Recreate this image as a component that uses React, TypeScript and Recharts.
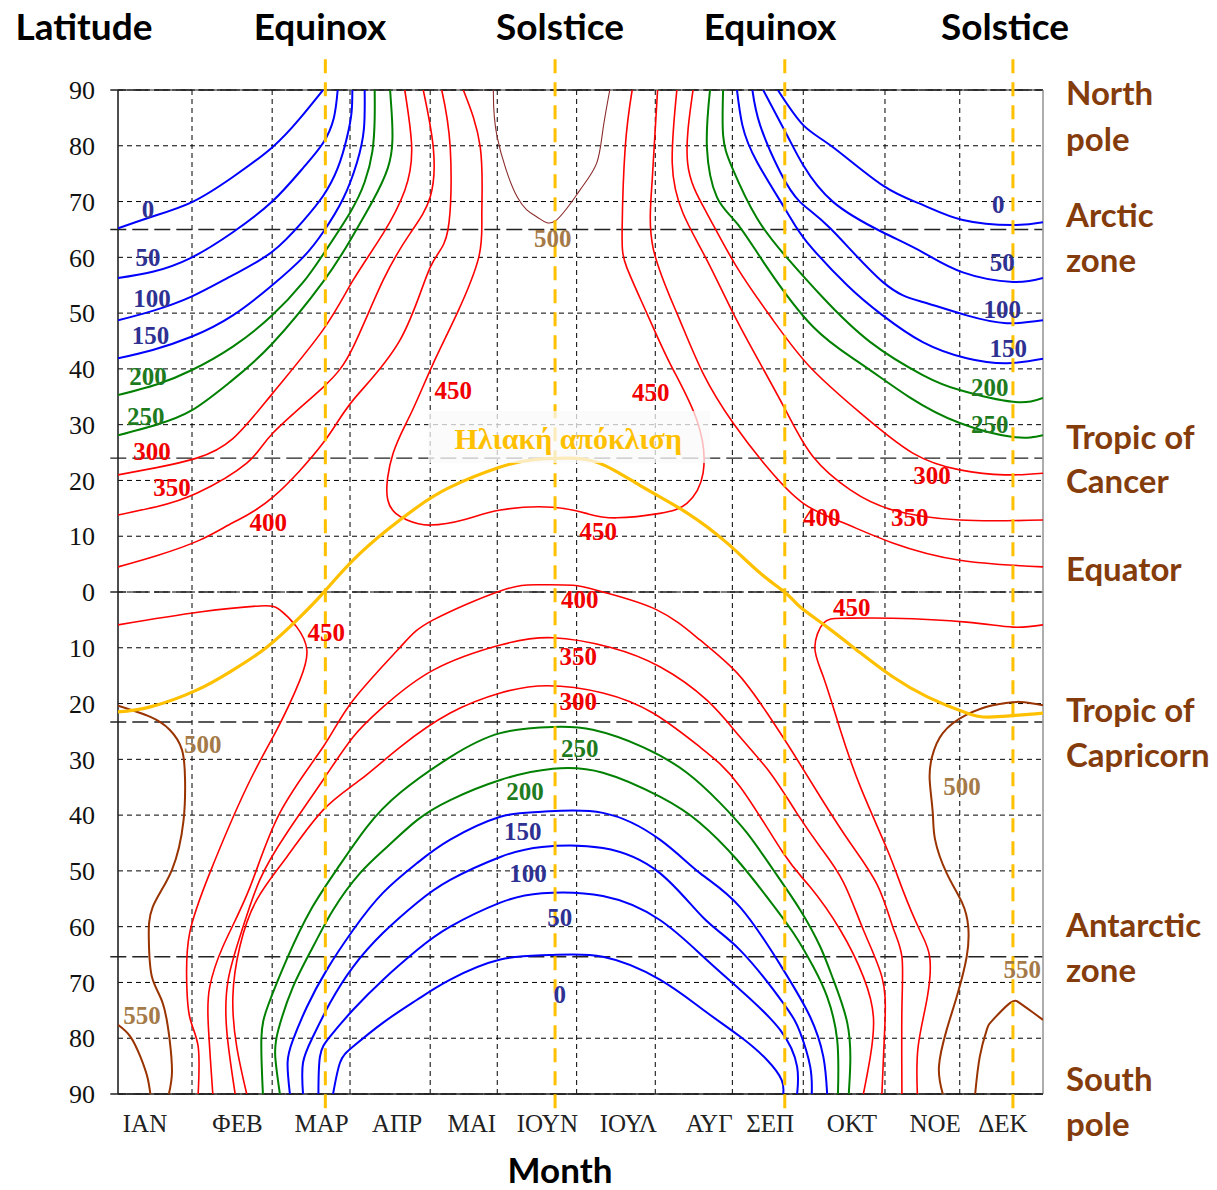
import React from 'react';
import {
  ComposedChart,
  Line,
  Scatter,
  XAxis,
  YAxis,
  CartesianGrid,
  ReferenceLine,
} from 'recharts';

type P = [number, number];

// x = month position (0 = 1 Jan, 12 = 31 Dec), y = latitude
const monthTicks = [0.35, 1.55, 2.64, 3.62, 4.59, 5.57, 6.62, 7.67, 8.46, 9.52, 10.6, 11.48];
const monthNames = ['ΙΑΝ', 'ΦΕΒ', 'ΜΑΡ', 'ΑΠΡ', 'ΜΑΙ', 'ΙΟΥΝ', 'ΙΟΥΛ', 'ΑΥΓ', 'ΣΕΠ', 'ΟΚΤ', 'ΝΟΕ', 'ΔΕΚ'];
const latTicks = [90, 80, 70, 60, 50, 40, 30, 20, 10, 0, -10, -20, -30, -40, -50, -60, -70, -80, -90];
const gridMonths = [0.96, 2.0, 3.01, 4.05, 4.92, 5.95, 6.97, 7.97, 8.89, 9.95, 10.92];
const sunMarks = [2.69, 5.67, 8.65, 11.61];
const zoneLats = [90, 65, 24, 0, -23.3, -65.4, -90];

// northern hemisphere, Jan-Apr side
const nL0: P[] = [[0, 65.2], [0.42, 67.2], [0.96, 69.9], [1.49, 74.4], [2.0, 79.7], [2.36, 84.9], [2.66, 90]];
const nL50: P[] = [[0, 56.3], [0.45, 57.4], [0.96, 60], [1.49, 64.5], [2.0, 70], [2.4, 76], [2.66, 80.5], [2.8, 85], [2.85, 90]];
const nL100: P[] = [[0, 48.7], [0.45, 50.4], [0.96, 53], [1.49, 56.8], [2.0, 61], [2.4, 66.5], [2.66, 71], [2.85, 76], [2.97, 81.5], [3.03, 86], [3.04, 90]];
const nL150: P[] = [[0, 41.9], [0.45, 43.4], [0.96, 45.8], [1.49, 49.6], [2.0, 55], [2.4, 60], [2.66, 64.5], [2.92, 70.5], [3.1, 77], [3.19, 83], [3.2, 90]];
const nL200: P[] = [[0, 35.3], [0.5, 37.2], [0.96, 39.8], [1.49, 44], [2.0, 49.6], [2.4, 55.5], [2.66, 60.5], [3.01, 68], [3.2, 73.5], [3.3, 79], [3.33, 85], [3.33, 90]];
const nL250: P[] = [[0, 28.1], [0.5, 30], [0.96, 32.6], [1.45, 37.6], [2.0, 44.5], [2.66, 55.6], [3.01, 63], [3.3, 70], [3.5, 76], [3.56, 81], [3.55, 86], [3.53, 90]];
const nL300: P[] = [[0, 21], [0.5, 22.3], [1.02, 24], [1.49, 27.5], [2.01, 35.7], [2.66, 47], [3.05, 55.9], [3.44, 64.3], [3.72, 72], [3.81, 79.7], [3.72, 90]];
const nL350: P[] = [[0, 13.8], [0.5, 15.3], [1.02, 17.7], [1.67, 23.1], [2.01, 28.5], [2.66, 36.7], [3.05, 43.9], [3.44, 55.9], [3.79, 64.3], [4.05, 70.8], [4.09, 79.7], [3.96, 90]];
const nL400: P[] = [[0, 4.5], [0.5, 6.5], [1.06, 9.3], [1.5, 12.5], [2.01, 17], [2.66, 26.7], [3.05, 34.4], [3.66, 45.2], [4.05, 58.2], [4.28, 64.9], [4.31, 79.7], [4.2, 90]];
const n450: P[] = [[4.48, 90], [4.7, 79.7], [4.72, 68], [4.68, 60], [4.4, 50], [4.09, 41], [3.8, 32], [3.57, 24.9], [3.5, 16.5], [3.75, 12.9], [4.05, 12], [4.5, 13], [4.96, 14.7], [5.64, 15.2], [6.1, 14], [6.47, 13.3], [7.03, 14.1], [7.38, 15.9], [7.59, 21.3], [7.51, 30.8], [7.16, 41], [6.86, 50], [6.6, 58.2], [6.54, 64.9], [6.58, 79.7], [6.67, 90]];
const n500: P[] = [[4.87, 90], [4.92, 81.5], [5.18, 70.8], [5.44, 67.2], [5.67, 66.5], [5.99, 72], [6.21, 76.9], [6.29, 82.8], [6.38, 90]];

// northern hemisphere, Aug-Dec side
const nR0: P[] = [[8.56, 90], [8.89, 83.7], [9.28, 79.7], [9.92, 72.9], [10.44, 69.4], [10.96, 66.7], [11.61, 65.8], [12, 66.3]];
const nR50: P[] = [[8.37, 90], [8.68, 81.9], [8.89, 76.5], [9.28, 69.9], [9.92, 64.5], [10.44, 60.9], [10.96, 57.3], [11.61, 55.6], [12, 56.3]];
const nR100: P[] = [[8.23, 90], [8.33, 83.7], [8.59, 75.3], [8.85, 69.9], [9.24, 65.2], [9.92, 55.6], [10.44, 52], [11.01, 49.6], [11.53, 48.2], [12, 48.7]];
const nR150: P[] = [[8.03, 90], [8.1, 83.7], [8.29, 77.1], [8.68, 68.1], [8.94, 62.7], [9.46, 55], [9.92, 49.6], [10.44, 44.8], [11.01, 41.9], [11.53, 41], [12, 41.8]];
const nR200: P[] = [[7.85, 90], [7.85, 81.9], [7.97, 76], [8.29, 67], [8.68, 59.9], [9.15, 52.7], [9.76, 44.8], [10.44, 38.9], [10.92, 36.2], [11.61, 34.1], [12, 34.8]];
const nR250: P[] = [[7.68, 90], [7.64, 79.7], [7.77, 70.8], [8.03, 66.1], [8.42, 58.2], [9.02, 47.5], [9.63, 41], [10.27, 34.9], [10.92, 30.3], [11.61, 27.8], [12, 28.1]];
const nR300: P[] = [[7.46, 90], [7.39, 76.9], [7.64, 67.9], [8.03, 58.2], [8.5, 48.7], [8.98, 40.3], [9.63, 32.1], [10.31, 24.9], [10.92, 21.9], [11.5, 21], [12, 21.3]];
const nR350: P[] = [[7.25, 90], [7.19, 76.9], [7.33, 67.9], [7.64, 59.5], [7.98, 50], [8.33, 41], [8.68, 32.1], [9.02, 24.2], [9.5, 18.3], [10.05, 14.7], [10.92, 12.9], [12, 12.9]];
const nR400: P[] = [[7.0, 90], [6.93, 73.8], [6.94, 61.8], [7.25, 50], [7.59, 39.2], [7.98, 30.3], [8.42, 22.4], [8.89, 15.9], [9.41, 12.4], [10.05, 8.8], [10.92, 5.7], [12, 4.5]];

// southern hemisphere domes (west foot -> crest -> east foot)
const s0: P[] = [[2.79, -90], [2.88, -84.4], [3.05, -81.5], [3.44, -77.2], [3.88, -73.1], [4.31, -69.5], [4.96, -65.9], [5.6, -65.1], [6.29, -65.4], [7.03, -69.5], [7.59, -74.9], [8.07, -79.7], [8.42, -83.9], [8.61, -87.5], [8.63, -90]];
const s50: P[] = [[2.6, -90], [2.62, -83.3], [2.75, -79.7], [3.05, -74.9], [3.44, -69.5], [3.88, -64.2], [4.31, -60], [4.96, -55.7], [5.5, -54], [6.29, -54.5], [7.03, -58.8], [7.6, -65.5], [8.07, -71.3], [8.59, -78.5], [8.81, -85.1], [8.81, -90]];
const s100: P[] = [[2.4, -90], [2.4, -84.4], [2.53, -79.7], [2.75, -73.7], [3.05, -67.2], [3.44, -61.1], [3.88, -55.7], [4.31, -51.6], [4.96, -47.5], [5.5, -45.7], [6.29, -45.9], [7.03, -50.4], [7.6, -58.5], [8.07, -64.2], [8.63, -73.7], [8.85, -79], [8.98, -85.1], [9.0, -90]];
const s150: P[] = [[2.23, -90], [2.2, -84.4], [2.27, -80.3], [2.45, -74.4], [2.71, -67.7], [3.05, -60.6], [3.44, -53.9], [3.88, -48.6], [4.31, -44.4], [4.96, -40.3], [5.5, -39.4], [6.29, -39.6], [7.03, -44.4], [7.55, -50.4], [8.07, -56.5], [8.63, -67.7], [8.98, -76.2], [9.15, -83.3], [9.2, -90]];
const s200: P[] = [[2.1, -90], [2.04, -83.3], [2.08, -78.5], [2.27, -70.8], [2.53, -63.6], [2.79, -57], [3.14, -50.4], [3.49, -45.7], [3.88, -40.9], [4.31, -37.3], [4.96, -33.7], [5.64, -31.7], [6.29, -32.4], [7.03, -36.7], [7.55, -41.4], [8.03, -48], [8.42, -54.7], [8.76, -61.1], [9.02, -67.2], [9.2, -72.6], [9.33, -80.3], [9.34, -90]];
const s250: P[] = [[1.88, -90], [1.86, -80], [1.95, -74], [2.2, -65.5], [2.5, -57], [2.85, -49.5], [3.23, -42.1], [3.66, -36], [4.31, -29.6], [4.96, -25.3], [5.64, -24.2], [6.16, -24.7], [6.81, -27.8], [7.38, -32.4], [7.81, -37.8], [8.16, -43.2], [8.5, -49.8], [8.85, -57], [9.11, -63.6], [9.28, -69.5], [9.46, -77.2], [9.5, -84.4], [9.48, -90]];
const s300: P[] = [[1.67, -90], [1.54, -81.5], [1.49, -72.6], [1.58, -63.6], [1.8, -55.2], [2.19, -47.5], [2.66, -39.1], [3.14, -33.7], [3.66, -27.8], [4.31, -21.7], [4.96, -18.1], [5.57, -16.8], [6.29, -18.1], [6.94, -21.7], [7.55, -27.8], [8.07, -34.9], [8.63, -46.8], [8.98, -52.9], [9.37, -60.6], [9.67, -69], [9.8, -76.2], [9.76, -83.3], [9.67, -90]];
const s350: P[] = [[1.52, -90], [1.41, -78.5], [1.43, -69.5], [1.6, -61], [1.84, -51.6], [2.19, -43.2], [2.66, -33.7], [3.05, -26], [3.44, -20.6], [4.09, -14], [4.96, -9.5], [5.64, -8.2], [6.38, -9.9], [7.03, -13.4], [7.64, -19.4], [8.07, -26], [8.46, -32.4], [8.8, -39.5], [9.11, -45.7], [9.41, -52], [9.67, -60.6], [9.91, -69], [9.95, -77.2], [9.91, -90]];
const s400: P[] = [[1.23, -90], [1.17, -77.2], [1.19, -70.8], [1.36, -63.6], [1.71, -53], [2.1, -39.6], [2.66, -27.8], [3.05, -19.4], [3.66, -9.9], [4.09, -5], [4.96, 0.2], [5.45, 1.3], [5.9, 1.2], [6.29, 0], [6.99, -3.2], [7.55, -8.6], [8.03, -14.5], [8.42, -21.7], [8.76, -28.9], [9.11, -36.7], [9.5, -45], [9.85, -52.5], [10.05, -60], [10.17, -65.4], [10.17, -74.4], [10.17, -90]];
const sL450: P[] = [[0, -5.9], [1.06, -3.6], [1.84, -2.5], [2.1, -3.2], [2.32, -6.3], [2.45, -10.4], [2.36, -15.8], [2.06, -24.7], [1.67, -35], [1.19, -50.4], [0.93, -61.1], [0.89, -69], [0.93, -76.2], [1.04, -81.5], [1.04, -90]];
const sR450: P[] = [[12, -5.9], [11.61, -6.3], [11.01, -5.4], [10.05, -4.7], [9.41, -4.7], [9.15, -5.6], [9.04, -9.9], [9.15, -15.2], [9.37, -24.7], [9.63, -34.9], [9.98, -46.2], [10.18, -53.4], [10.4, -60.6], [10.53, -65.4], [10.5, -72.6], [10.38, -81.5], [10.37, -90]];
const sL500: P[] = [[0, -20.4], [0.42, -22.4], [0.67, -24.7], [0.83, -28.3], [0.87, -33.7], [0.85, -41], [0.7, -49.8], [0.45, -56.5], [0.4, -62.4], [0.44, -69], [0.58, -73.7], [0.67, -80.3], [0.7, -86.2], [0.66, -90]];
const sL550: P[] = [[0, -77.6], [0.16, -79.7], [0.29, -83.3], [0.38, -86.9], [0.42, -90]];
const sR500: P[] = [[12, -20.3], [11.7, -19.7], [11.35, -20.3], [11.01, -22], [10.7, -25.3], [10.56, -29.6], [10.53, -33.7], [10.57, -39.6], [10.6, -44.4], [10.75, -50.4], [10.95, -55.7], [11.03, -60], [11.01, -65.4], [10.88, -72.6], [10.75, -78.5], [10.65, -85.1], [10.7, -90]];
const sR550: P[] = [[11.12, -90], [11.18, -83.3], [11.27, -78.5], [11.35, -76.7], [11.57, -73.7], [11.7, -73.7], [11.87, -75.4], [12, -76.7]];

// solar declination
const declination: P[] = [[0, -21.5], [0.42, -20.6], [1.02, -17.6], [1.49, -14], [1.93, -9.9], [2.36, -4.5], [2.66, -0.2], [3.05, 5.7], [3.49, 11.1], [3.88, 15.2], [4.31, 18.8], [4.96, 22.4], [5.38, 23.7], [5.8, 24], [6.25, 23.1], [6.81, 18.8], [7.38, 14.2], [7.9, 8.8], [8.33, 3.4], [8.68, -0.4], [8.85, -2.7], [9.2, -6.3], [9.63, -10.9], [10.05, -15.2], [10.5, -18.8], [11.01, -21.7], [11.35, -22.4], [12, -21.7]];

// contour labels: [month, lat, value]
const contourLabels: [number, number, number][] = [
  [0.39, 68.5, 0], [0.39, 59.9, 50], [0.44, 52.7, 100], [0.42, 45.9, 150], [0.39, 38.7, 200], [0.36, 31.5, 250],
  [0.44, 25.1, 300], [0.7, 18.8, 350], [1.95, 12.4, 400], [4.35, 36.2, 450], [5.64, 63.3, 500], [6.91, 35.8, 450],
  [6.23, 10.8, 450], [11.42, 69.4, 0], [11.47, 59.1, 50], [11.47, 50.7, 100], [11.55, 43.7, 150], [11.31, 36.7, 200],
  [11.31, 30.1, 250], [10.56, 20.8, 300], [10.27, 13.4, 350], [9.13, 13.4, 400], [9.52, -2.7, 450],
  [5.99, -1.4, 400], [5.97, -11.6, 350], [5.97, -19.7, 300], [5.99, -28, 250], [5.28, -35.7, 200],
  [5.25, -43, 150], [5.32, -50.4, 100], [5.73, -58.4, 50], [5.73, -72.2, 0], [2.7, -7.2, 450],
  [1.1, -27.4, 500], [0.31, -76, 550], [10.95, -34.8, 500], [11.73, -67.7, 550],
];
const declinationLabel: [number, number, string] = [5.84, 27.6, 'Ηλιακή απόκλιση'];

const contours: { pts: P[]; level: number; thin?: boolean }[] = [
  { pts: nL0, level: 0 }, { pts: nL50, level: 50 }, { pts: nL100, level: 100 }, { pts: nL150, level: 150 },
  { pts: nL200, level: 200 }, { pts: nL250, level: 250 }, { pts: nL300, level: 300 }, { pts: nL350, level: 350 },
  { pts: nL400, level: 400 }, { pts: n450, level: 450 }, { pts: n500, level: 500, thin: true },
  { pts: nR0, level: 0 }, { pts: nR50, level: 50 }, { pts: nR100, level: 100 }, { pts: nR150, level: 150 },
  { pts: nR200, level: 200 }, { pts: nR250, level: 250 }, { pts: nR300, level: 300 }, { pts: nR350, level: 350 },
  { pts: nR400, level: 400 },
  { pts: s0, level: 0 }, { pts: s50, level: 50 }, { pts: s100, level: 100 }, { pts: s150, level: 150 },
  { pts: s200, level: 200 }, { pts: s250, level: 250 }, { pts: s300, level: 300 }, { pts: s350, level: 350 },
  { pts: s400, level: 400 }, { pts: sL450, level: 450 }, { pts: sR450, level: 450 },
  { pts: sL500, level: 500 }, { pts: sL550, level: 550 }, { pts: sR500, level: 500 }, { pts: sR550, level: 550 },
];

const lineColor = (v: number) => (v <= 150 ? '#0000ff' : v <= 250 ? '#008000' : v <= 450 ? '#ff0000' : '#993300');
const labelColor = (v: number) => (v <= 150 ? '#2e3192' : v <= 250 ? '#1e7b1e' : v <= 450 ? '#f00000' : '#a47a48');

const rows = (pts: P[]) => pts.map(([m, lat]) => ({ m, lat }));

const SERIF = '"Liberation Serif", "Times New Roman", serif';
const SANS = 'Lato, "Open Sans", sans-serif';
const BROWN = '#843c0c';

const headers = [
  { text: 'Latitude', x: 84 },
  { text: 'Equinox', x: 320 },
  { text: 'Solstice', x: 560 },
  { text: 'Equinox', x: 770 },
  { text: 'Solstice', x: 1005 },
];

const sideLabels = [
  { text: 'North', y: 92 }, { text: 'pole', y: 138 },
  { text: 'Arctic', y: 214 }, { text: 'zone', y: 259 },
  { text: 'Tropic of', y: 436 }, { text: 'Cancer', y: 480 },
  { text: 'Equator', y: 568 },
  { text: 'Tropic of', y: 709 }, { text: 'Capricorn', y: 754 },
  { text: 'Antarctic', y: 924 }, { text: 'zone', y: 969 },
  { text: 'South', y: 1078 }, { text: 'pole', y: 1123 },
];

const ContourLabel = (props: any) => {
  const { cx, cy, payload } = props;
  return (
    <text x={cx} y={cy} textAnchor="middle" dominantBaseline="central" fontFamily={SERIF}
      fontWeight="bold" fontSize={25} fill={labelColor(payload.v)}>
      {payload.v}
    </text>
  );
};

const DeclLabel = (props: any) => {
  const { cx, cy, payload } = props;
  return (
    <g>
      <rect x={cx - 140} y={cy - 27} width={282} height={52} fill="rgba(250,250,250,0.75)" />
      <text x={cx} y={cy} textAnchor="middle" dominantBaseline="central" fontFamily={SERIF}
        fontWeight="bold" fontSize={30} fill="#ffc000">
        {payload.text}
      </text>
    </g>
  );
};

const App = () => {
  return (
    <div style={{ position: 'absolute', left: 0, top: 0, width: 1217, height: 1190, background: '#fff', overflow: 'hidden' }}>
      <ComposedChart width={1217} height={1190} margin={{ top: 90, right: 174, bottom: 36, left: 58 }}>
        <CartesianGrid vertical={false} stroke="#000" strokeDasharray="5 4" strokeWidth={1} />
        <XAxis
          type="number"
          dataKey="m"
          domain={[0, 12]}
          ticks={monthTicks}
          tickFormatter={(v: number) => monthNames[monthTicks.indexOf(v)]}
          height={60}
          axisLine={false}
          tickSize={0}
          tickMargin={20}
          interval={0}
          allowDataOverflow
          tick={{ fontFamily: SERIF, fontSize: 25, fill: '#222' }}
        />
        <YAxis
          type="number"
          dataKey="lat"
          domain={[-90, 90]}
          ticks={latTicks}
          tickFormatter={(v: number) => String(Math.abs(v))}
          width={60}
          axisLine={false}
          tickSize={0}
          tickMargin={23}
          interval={0}
          allowDataOverflow
          tick={{ fontFamily: SERIF, fontSize: 26, fill: '#111' }}
        />
        {gridMonths.map((m) => (
          <ReferenceLine key={'g' + m} x={m} stroke="#000" strokeDasharray="5 4" strokeWidth={1} />
        ))}
        {zoneLats.map((lat) => (
          <ReferenceLine key={'z' + lat} ifOverflow="visible" segment={[{ x: -0.1, y: lat }, { x: 12, y: lat }]}
            stroke="#222" strokeDasharray="16 6" strokeWidth={1.4} />
        ))}
        <ReferenceLine x={0} stroke="#222" strokeWidth={1.6} />
        <ReferenceLine x={12} stroke="#9a9a9a" strokeWidth={1.6} />
        <ReferenceLine y={90} stroke="#222" strokeWidth={1.2} />
        <ReferenceLine y={-90} stroke="#222" strokeWidth={1.4} />
        {contours.map((c, i) => (
          <Line
            key={'c' + i}
            data={rows(c.pts)}
            dataKey="lat"
            type="natural"
            stroke={c.thin ? '#8b2c2c' : lineColor(c.level)}
            strokeWidth={c.thin ? 1.1 : c.level <= 250 || c.level >= 500 ? 2 : 1.6}
            dot={false}
            activeDot={false}
            isAnimationActive={false}
          />
        ))}
        <Line
          data={rows(declination)}
          dataKey="lat"
          type="natural"
          stroke="#ffc000"
          strokeWidth={3.2}
          dot={false}
          activeDot={false}
          isAnimationActive={false}
        />
        {sunMarks.map((m) => (
          <ReferenceLine key={'s' + m} ifOverflow="visible" segment={[{ x: m, y: 95.5 }, { x: m, y: -93 }]}
            stroke="#ffc000" strokeWidth={3} strokeDasharray="14 9" />
        ))}
        <Scatter
          data={contourLabels.map(([m, lat, v]) => ({ m, lat, v }))}
          dataKey="lat"
          shape={ContourLabel}
          isAnimationActive={false}
        />
        <Scatter
          data={[{ m: declinationLabel[0], lat: declinationLabel[1], text: declinationLabel[2] }]}
          dataKey="lat"
          shape={DeclLabel}
          isAnimationActive={false}
        />
      </ComposedChart>

      {headers.map((h, i) => (
        <div key={'h' + i} style={{ position: 'absolute', left: h.x, top: 25, transform: 'translate(-50%, -50%)',
          fontFamily: SANS, fontWeight: 700, fontSize: 37, color: '#000', whiteSpace: 'nowrap', lineHeight: 1 }}>
          {h.text}
        </div>
      ))}
      {sideLabels.map((s, i) => (
        <div key={'r' + i} style={{ position: 'absolute', left: 1066, top: s.y, transform: 'translateY(-50%)',
          fontFamily: SANS, fontWeight: 700, fontSize: 33, color: BROWN, whiteSpace: 'nowrap', lineHeight: 1 }}>
          {s.text}
        </div>
      ))}
      <div style={{ position: 'absolute', left: 560, top: 1169, transform: 'translate(-50%, -50%)',
        fontFamily: SANS, fontWeight: 700, fontSize: 35, color: '#000', whiteSpace: 'nowrap', lineHeight: 1 }}>
        Month
      </div>
    </div>
  );
};

export default App;
